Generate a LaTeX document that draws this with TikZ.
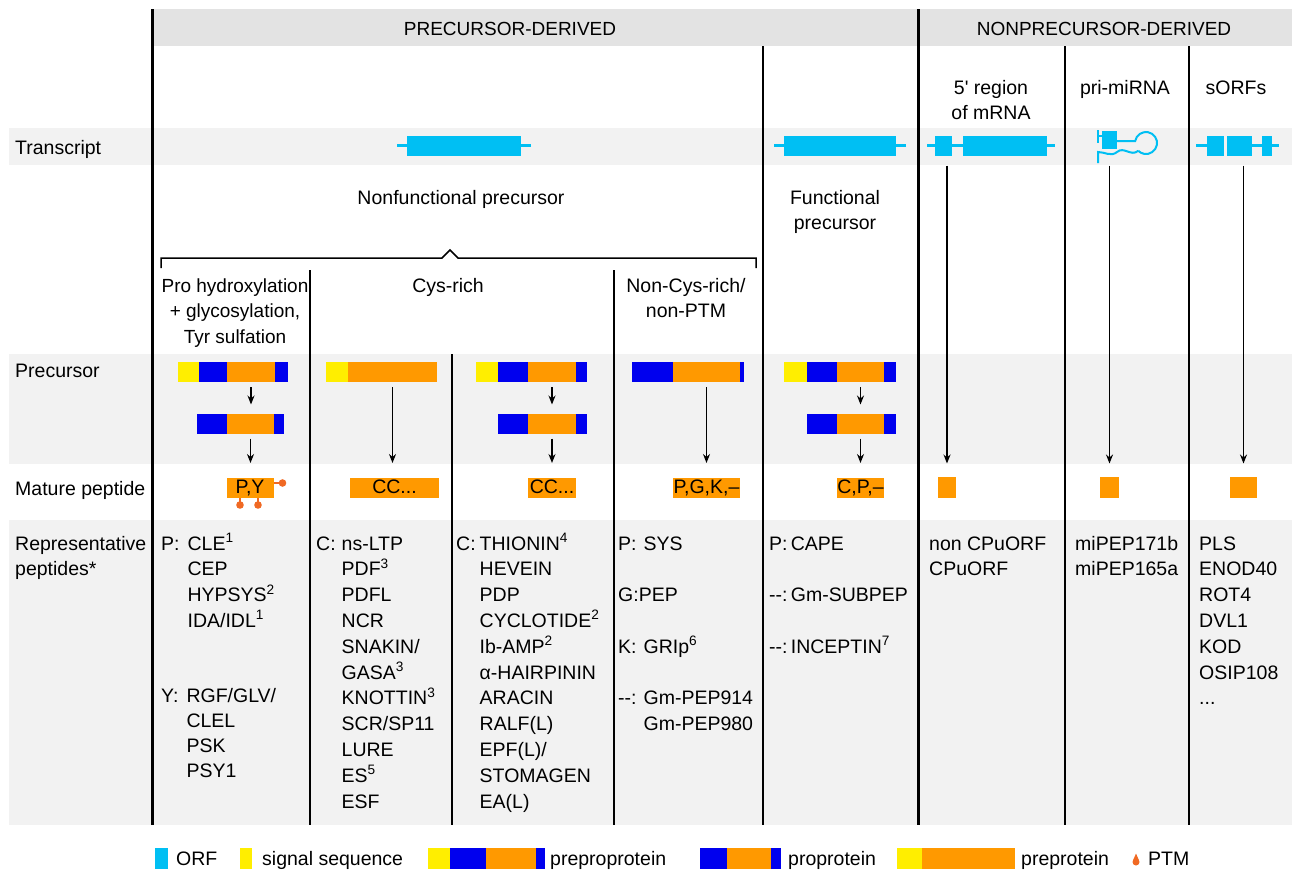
\documentclass[tikz,border=0pt]{standalone}
\usepackage{fontspec}
\setmainfont{Liberation Sans}
\usepackage{tikz}
\usetikzlibrary{arrows.meta, positioning, calc}
\definecolor{orfcyan}{RGB}{0,191,243}
\definecolor{sigyellow}{RGB}{255,238,0}
\definecolor{problue}{RGB}{0,0,238}
\definecolor{peporange}{RGB}{255,153,0}
\definecolor{ptmred}{RGB}{240,105,35}
\definecolor{bandgray}{RGB}{242,242,242}
\definecolor{headgray}{RGB}{227,227,227}

\begin{document}
\begin{tikzpicture}[
    x=1pt, y=-1pt,
    font=\fontsize{19.5}{25.8}\selectfont,
    seg/.style={rectangle, inner sep=0pt, outer sep=0pt, minimum height=20pt, anchor=west},
    sig/.style={seg, fill=sigyellow},
    pro/.style={seg, fill=problue},
    pep/.style={seg, fill=peporange},
    orf/.style={seg, fill=orfcyan},
    mature/.style={rectangle, inner sep=0pt, outer sep=0pt, minimum height=20pt, fill=peporange, text height=14pt, text depth=3pt},
    rowlabel/.style={anchor=base west, inner sep=0pt},
    heading/.style={anchor=base, inner sep=0pt},
    peplist/.style={anchor=base west, inner sep=0pt},
    divider/.style={line width=1.3pt},
    mainline/.style={line width=3pt},
    strand/.style={orfcyan, line width=2.5pt},
    ptm/.style={ptmred, line width=1.3pt},
    arrow/.style={line width=1.3pt, -{Stealth[length=9pt,width=7pt]}, shorten <=5pt}
]
    \useasboundingbox (0,0) rectangle (1296,873);

    % bands
    \fill [headgray] (152,9) rectangle (1292,46);
    \fill [bandgray] (9,128) rectangle (1292,165);
    \fill [bandgray] (9,354) rectangle (1292,464);
    \fill [bandgray] (9,520) rectangle (1292,825);

    % column rules
    \draw [mainline] (152,9) -- (152,825);
    \draw [mainline] (918,9) -- (918,825);
    \draw [divider] (763,46) -- (763,825);
    \draw [divider] (1065,46) -- (1065,825);
    \draw [divider] (1189,46) -- (1189,825);
    \draw [divider] (310,270) -- (310,825);
    \draw [divider] (452,354) -- (452,825);
    \draw [divider] (614,270) -- (614,825);
    \draw [line width=1.5pt] (161,268) -- (161,258) -- (442,258) -- (450,250) -- (458,258) -- (756,258) -- (756,268);

    % headings
    \node (hdpre) [heading, font=\fontsize{19}{24}\selectfont] at (510,35) {PRECURSOR-DERIVED};
    \node (hdnon) [heading, font=\fontsize{19}{24}\selectfont] at (1104,35) {NONPRECURSOR-DERIVED};
    \node (h5reg) [heading] at (991,94) {\begin{tabular}[t]{@{}c@{}}5\textquotesingle{} region\\of mRNA\end{tabular}};
    \node (hmirna) [heading] at (1125,94) {pri-miRNA};
    \node (hsorf) [heading] at (1236,94) {sORFs};
    \node (hnonf) [heading] at (461,204) {Nonfunctional precursor};
    \node (hfunc) [heading] at (835,204) {\begin{tabular}[t]{@{}c@{}}Functional\\precursor\end{tabular}};
    \node (hhyd) [heading, font=\fontsize{19}{25.8}\selectfont] at (235,292) {\begin{tabular}[t]{@{}c@{}}Pro hydroxylation\\+ glycosylation,\\Tyr sulfation\end{tabular}};
    \node (hcys) [heading] at (448,292) {Cys-rich};
    \node (hnoncys) [heading] at (686,292) {\begin{tabular}[t]{@{}c@{}}Non-Cys-rich/\\non-PTM\end{tabular}};

    % row labels
    \node (lbtr) [rowlabel] at (15,154) {Transcript};
    \node (lbpc) [rowlabel] at (15,377) {Precursor};
    \node (lbmp) [rowlabel] at (15,495) {Mature peptide};
    \node (lbrp) [rowlabel] at (15,550) {\begin{tabular}[t]{@{}l@{}}Representative\\peptides*\end{tabular}};

    % transcripts
    \node (tnf) [orf, minimum width=114pt] at (407,145.5) {};
    \node (tfp) [orf, minimum width=112pt] at (784,145.5) {};
    \node (t5a) [orf, minimum width=17pt] at (935,145.5) {};
    \node (t5b) [orf, minimum width=84pt] at (963,145.5) {};
    \node (ts1) [orf, minimum width=17pt] at (1207,145.5) {};
    \node (ts2) [orf, minimum width=25pt] at (1227,145.5) {};
    \node (ts3) [orf, minimum width=10pt] at (1262,145.5) {};
    \node (tmi) [orf, minimum width=15pt, minimum height=18pt] at (1102,139.5) {};
    \draw [strand] ([xshift=-10pt]tnf.west) -- (tnf.west) ([xshift=10pt]tnf.east) -- (tnf.east);
    \draw [strand] ([xshift=-10pt]tfp.west) -- (tfp.west) ([xshift=10pt]tfp.east) -- (tfp.east);
    \draw [strand] ([xshift=-8pt]t5a.west) -- (t5a.west) (t5a.east) -- (t5b.west) (t5b.east) -- ([xshift=8pt]t5b.east);
    \draw [strand] ([xshift=-11pt]ts1.west) -- (ts1.west) (ts2.east) -- (ts3.west) (ts3.east) -- ([xshift=7pt]ts3.east);
    \draw [strand, line width=2pt] (1098,130) -- (1098,143) (1098,136) -- (tmi.west |- 0,136);
    \draw [strand, line width=2pt] (tmi.east |- 0,141) -- (1135.2,141)
        arc [start angle=190.5, end angle=495, radius=11];
    \draw [strand, line width=2pt] (1138.2,150.8) .. controls (1131,157) and (1124,146) .. (1117,152)
        .. controls (1111,157) and (1105,152) .. (1098,152) -- (1098,163);

    % precursor, Pro column
    \node (a1s) [sig, minimum width=21pt] at (178,372) {};
    \node (a1p) [pro, minimum width=28pt, right=0pt of a1s] {};
    \node (a1m) [pep, minimum width=48pt, right=0pt of a1p] {};
    \node (a1c) [pro, minimum width=13pt, right=0pt of a1m] {};
    \node (b1p) [pro, minimum width=30pt] at (197,423.5) {};
    \node (b1m) [pep, minimum width=47pt, right=0pt of b1p] {};
    \node (b1c) [pro, minimum width=10pt, right=0pt of b1m] {};
    \node (m1) [mature, minimum width=47pt] at (250,488) {P,Y};
    \draw [arrow, shorten >=9pt] (a1m.south) -- (a1m.south |- b1m.north);
    \draw [arrow, shorten >=15pt] (b1m.south) -- (b1m.south |- m1.north);
    \draw [ptm] ([yshift=5pt]m1.east) -- ++(9,0) coordinate (ptmr);
    \fill [ptmred] (ptmr) circle (3.8pt);
    \draw [ptm] ([xshift=-10pt]m1.south) -- ++(0,7) coordinate (ptmp);
    \fill [ptmred] (ptmp) circle (3.8pt);
    \draw [ptm] ([xshift=8pt]m1.south) -- ++(0,7) coordinate (ptmy);
    \fill [ptmred] (ptmy) circle (3.8pt);

    % precursor, Cys-rich columns
    \node (a2s) [sig, minimum width=22pt] at (326,372) {};
    \node (a2m) [pep, minimum width=89pt, right=0pt of a2s] {};
    \node (m2) [mature, minimum width=89pt] at (394.5,488) {CC...};
    \draw [arrow, shorten >=15pt] (a2m.south) -- (a2m.south |- m2.north);

    \node (a3s) [sig, minimum width=22pt] at (476,372) {};
    \node (a3p) [pro, minimum width=30pt, right=0pt of a3s] {};
    \node (a3m) [pep, minimum width=48pt, right=0pt of a3p] {};
    \node (a3c) [pro, minimum width=11pt, right=0pt of a3m] {};
    \node (b3p) [pro, minimum width=30pt] at (498,423.5) {};
    \node (b3m) [pep, minimum width=48pt, right=0pt of b3p] {};
    \node (b3c) [pro, minimum width=11pt, right=0pt of b3m] {};
    \node (m3) [mature, minimum width=48pt] at (552,488) {CC...};
    \draw [arrow, shorten >=9pt] (a3m.south) -- (a3m.south |- b3m.north);
    \draw [arrow, shorten >=15pt] (b3m.south) -- (b3m.south |- m3.north);

    % precursor, non-Cys-rich column
    \node (a4p) [pro, minimum width=41pt] at (632,372) {};
    \node (a4m) [pep, minimum width=67pt, right=0pt of a4p] {};
    \node (a4c) [pro, minimum width=4pt, right=0pt of a4m] {};
    \node (m4) [mature, minimum width=67pt] at (706.5,488) {P,G,K,--};
    \draw [arrow, shorten >=15pt] (a4m.south) -- (a4m.south |- m4.north);

    % functional precursor
    \node (a5s) [sig, minimum width=23pt] at (784,372) {};
    \node (a5p) [pro, minimum width=30pt, right=0pt of a5s] {};
    \node (a5m) [pep, minimum width=47pt, right=0pt of a5p] {};
    \node (a5c) [pro, minimum width=12pt, right=0pt of a5m] {};
    \node (b5p) [pro, minimum width=30pt] at (807,423.5) {};
    \node (b5m) [pep, minimum width=47pt, right=0pt of b5p] {};
    \node (b5c) [pro, minimum width=12pt, right=0pt of b5m] {};
    \node (m5) [mature, minimum width=47pt] at (860.5,488) {C,P,--};
    \draw [arrow, shorten >=9pt] (a5m.south) -- (a5m.south |- b5m.north);
    \draw [arrow, shorten >=15pt] (b5m.south) -- (b5m.south |- m5.north);

    % nonprecursor-derived
    \node (q1) [mature, minimum width=18pt, minimum height=21pt] at (947,487) {};
    \node (q2) [mature, minimum width=19pt, minimum height=21pt] at (1109.5,487) {};
    \node (q3) [mature, minimum width=27pt, minimum height=21pt] at (1243.5,487) {};
    \draw [arrow, shorten <=10pt, shorten >=13pt] (q1 |- t5a.south) -- (q1.north);
    \draw [arrow, shorten <=17pt, shorten >=13pt] (q2 |- tmi.south) -- (q2.north);
    \draw [arrow, shorten <=10pt, shorten >=13pt] (q3 |- ts2.south) -- (q3.north);

    % representative peptides
    \node (pepp) [peplist] at (161,550) {\begin{tabular}[t]{@{}l@{\hspace{8pt}}l@{}}
        P: & CLE\textsuperscript{1}\\ & CEP\\ & HYPSYS\textsuperscript{2}\\ & IDA/IDL\textsuperscript{1}\end{tabular}};
    \node (pepy) [peplist, font=\fontsize{19.5}{25}\selectfont] at (161,702) {\begin{tabular}[t]{@{}l@{\hspace{8pt}}l@{}}
        Y: & RGF/GLV/\\ & CLEL\\ & PSK\\ & PSY1\end{tabular}};
    \node (pepca) [peplist] at (316,550) {\begin{tabular}[t]{@{}l@{\hspace{6pt}}l@{}}
        C: & ns-LTP\\ & PDF\textsuperscript{3}\\ & PDFL\\ & NCR\\ & SNAKIN/\\ & GASA\textsuperscript{3}\\
        & KNOTTIN\textsuperscript{3}\\ & SCR/SP11\\ & LURE\\ & ES\textsuperscript{5}\\ & ESF\end{tabular}};
    \node (pepcb) [peplist] at (456,550) {\begin{tabular}[t]{@{}l@{\hspace{4pt}}l@{}}
        C: & THIONIN\textsuperscript{4}\\ & HEVEIN\\ & PDP\\ & CYCLOTIDE\textsuperscript{2}\\ & Ib-AMP\textsuperscript{2}\\
        & α-HAIRPININ\\ & ARACIN\\ & RALF(L)\\ & EPF(L)/\\ & STOMAGEN\\ & EA(L)\end{tabular}};
    \node (pepnc) [peplist] at (618,550) {\begin{tabular}[t]{@{}l@{\hspace{7pt}}l@{}}
        P: & SYS\\ & \\ \multicolumn{2}{@{}l@{}}{G:PEP}\\ & \\ K: & GRIp\textsuperscript{6}\\ & \\
        -{}-: & Gm-PEP914\\ & Gm-PEP980\end{tabular}};
    \node (pepfp) [peplist] at (769,550) {\begin{tabular}[t]{@{}l@{}}
        P:\,CAPE\\ \\ -{}-:\,Gm-SUBPEP\\ \\ -{}-:\,INCEPTIN\textsuperscript{7}\end{tabular}};
    \node (pepuo) [peplist] at (929,550) {\begin{tabular}[t]{@{}l@{}}non CPuORF\\CPuORF\end{tabular}};
    \node (pepmi) [peplist] at (1075,550) {\begin{tabular}[t]{@{}l@{}}miPEP171b\\miPEP165a\end{tabular}};
    \node (pepso) [peplist] at (1199,550) {\begin{tabular}[t]{@{}l@{}}PLS\\ENOD40\\ROT4\\DVL1\\KOD\\OSIP108\\...\end{tabular}};

    % legend
    \node (lgorf) [orf, minimum width=13pt, minimum height=21pt] at (155,858) {};
    \node (lgorft) [rowlabel] at (176,865) {ORF};
    \node (lgsig) [sig, minimum width=12pt, minimum height=21pt] at (240,858) {};
    \node (lgsigt) [rowlabel] at (262,865) {signal sequence};
    \node (lgas) [sig, minimum width=22pt, minimum height=21pt] at (428,858) {};
    \node (lgap) [pro, minimum width=36pt, minimum height=21pt, right=0pt of lgas] {};
    \node (lgam) [pep, minimum width=50pt, minimum height=21pt, right=0pt of lgap] {};
    \node (lgac) [pro, minimum width=9pt, minimum height=21pt, right=0pt of lgam] {};
    \node (lgat) [rowlabel] at (550,865) {preproprotein};
    \node (lgbp) [pro, minimum width=27pt, minimum height=21pt] at (700,858) {};
    \node (lgbm) [pep, minimum width=44pt, minimum height=21pt, right=0pt of lgbp] {};
    \node (lgbc) [pro, minimum width=10pt, minimum height=21pt, right=0pt of lgbm] {};
    \node (lgbt) [rowlabel] at (788,865) {proprotein};
    \node (lgcs) [sig, minimum width=25pt, minimum height=21pt] at (897,858) {};
    \node (lgcm) [pep, minimum width=93pt, minimum height=21pt, right=0pt of lgcs] {};
    \node (lgct) [rowlabel] at (1021,865) {preprotein};
    \fill [ptmred] (1136,862) circle (3.5pt);
    \fill [ptmred] (1132.9,860.6) -- (1136,853.5) -- (1139.1,860.6) -- cycle;
    \node (lgptm) [rowlabel] at (1148,865) {PTM};
\end{tikzpicture}
\end{document}
